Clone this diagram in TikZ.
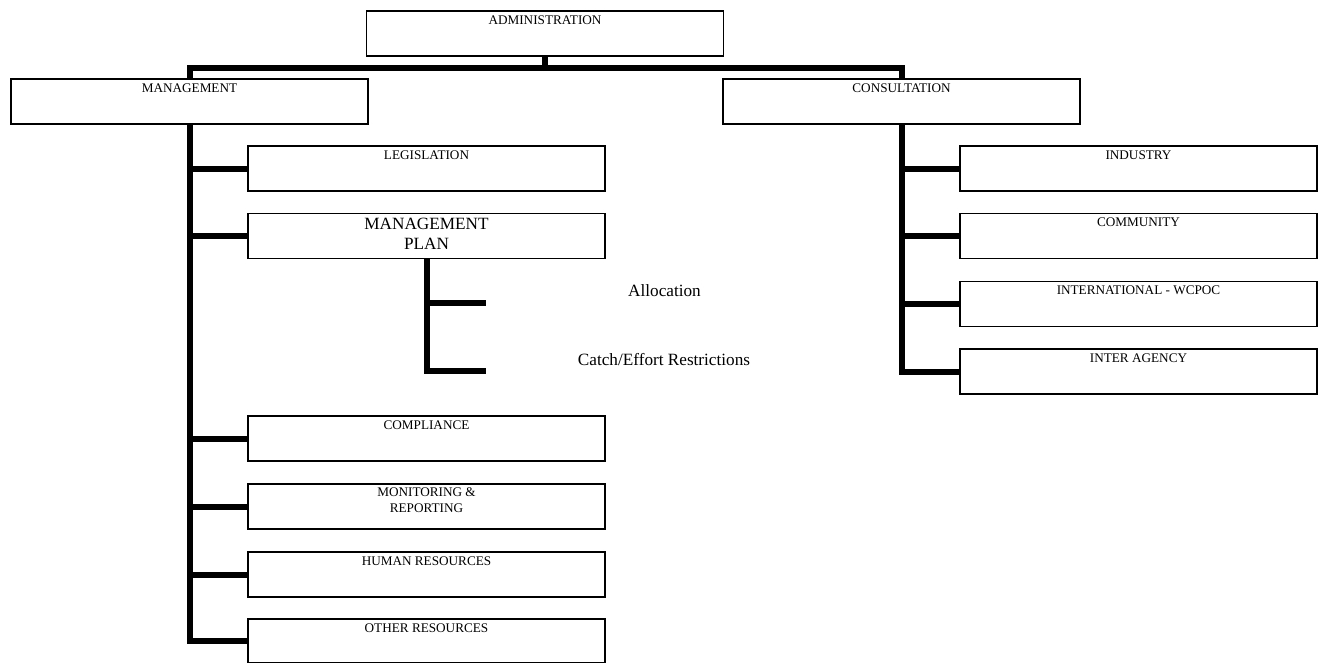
\documentclass[tikz,border=0pt]{standalone}
\usepackage{fontspec}
\setmainfont{Liberation Serif}
\begin{document}
\begin{tikzpicture}[x=1pt,y=-1pt,
  box/.style={draw, line width=1.5pt, minimum width=357pt, minimum height=45pt, inner sep=0pt},
  lbl/.style={font=\fontsize{13.2}{16}\selectfont, inner sep=0pt, anchor=base, align=center},
  biglbl/.style={font=\fontsize{17.2}{20}\selectfont, inner sep=0pt, anchor=base, align=center},
  conn/.style={line width=6pt}]
\useasboundingbox (0,0) rectangle (1324,664);

% top level
\node[box] (admin) at (545,33.5) {};
\node[lbl] (adminT) at ([yshift=-14pt]admin.north) {ADMINISTRATION};

% second level
\node[box] (mgmt) at (189.5,101.5) {};
\node[lbl] (mgmtT) at ([yshift=-14pt]mgmt.north) {MANAGEMENT};
\node[box] (cons) at (901.5,101.5) {};
\node[lbl] (consT) at ([yshift=-14pt]cons.north) {CONSULTATION};

% management branch (two-line labels are placed by their last baseline)
\node[box] (leg) at (426.5,168.5) {};
\node[lbl] (legT) at ([yshift=-14pt]leg.north) {LEGISLATION};
\node[box] (mp) at (426.5,236) {};
\node[biglbl] (mpT) at ([yshift=-37pt]mp.north) {MANAGEMENT\\PLAN};
\node[box] (comp) at (426.5,438.5) {};
\node[lbl] (compT) at ([yshift=-14pt]comp.north) {COMPLIANCE};
\node[box] (mon) at (426.5,506.5) {};
\node[lbl] (monT) at ([yshift=-29pt]mon.north) {MONITORING \&\\REPORTING};
\node[box] (hum) at (426.5,574.5) {};
\node[lbl] (humT) at ([yshift=-14pt]hum.north) {HUMAN RESOURCES};
\node[box, minimum height=43.5pt] (oth) at (426.5,640.75) {};
\node[lbl] (othT) at ([yshift=-14pt]oth.north) {OTHER RESOURCES};

% management plan items
\node[biglbl] (alloc) at (664.5,296.5) {Allocation};
\node[biglbl] (catch) at (664,365) {Catch/Effort Restrictions};
\coordinate (allocEnd) at (486,303);
\coordinate (catchEnd) at (486,371);

% consultation branch
\node[box] (ind) at (1138.5,168.5) {};
\node[lbl] (indT) at ([yshift=-14pt]ind.north) {INDUSTRY};
\node[box] (com) at (1138.5,236) {};
\node[lbl] (comT) at ([yshift=-14pt]com.north) {COMMUNITY};
\node[box] (intl) at (1138.5,304) {};
\node[lbl] (intlT) at ([yshift=-14pt]intl.north) {INTERNATIONAL - WCPOC};
\node[box] (inter) at (1138.5,371.5) {};
\node[lbl] (interT) at ([yshift=-14pt]inter.north) {INTER AGENCY};

% connectors
\coordinate (bus) at (0,67.5);
\draw[conn] (admin.south) -- (admin.south |- bus);
\draw[conn] (mgmt.north) -- (mgmt.north |- bus) -- (cons.north |- bus) -- (cons.north);

\draw[conn] (mgmt.south) -- (mgmt.south |- oth.west) -- (oth.west);
\foreach \n in {leg,mp,comp,mon,hum}
  \draw[conn] (mgmt.south |- \n.west) -- (\n.west);

\draw[conn] (mp.south) -- (mp.south |- catchEnd) -- (catchEnd);
\draw[conn] (mp.south |- allocEnd) -- (allocEnd);

\draw[conn] (cons.south) -- (cons.south |- inter.west) -- (inter.west);
\foreach \n in {ind,com,intl}
  \draw[conn] (cons.south |- \n.west) -- (\n.west);
\end{tikzpicture}
\end{document}
